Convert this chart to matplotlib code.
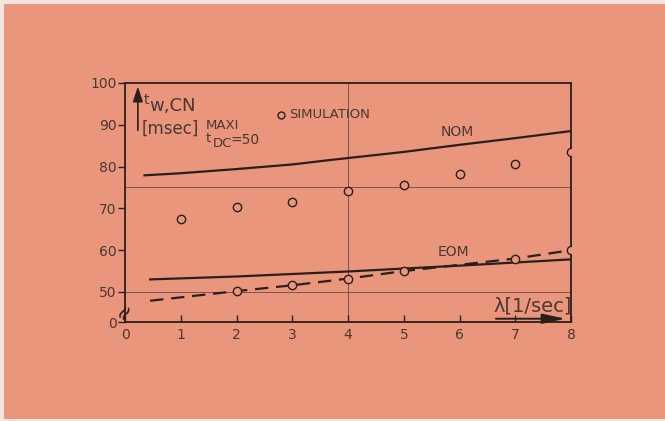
import matplotlib
matplotlib.use("Agg")
import matplotlib.pyplot as plt
from matplotlib.patches import Rectangle

# data
nom_x = [0.35, 1, 2, 3, 3.7, 5, 6, 7, 8]
nom_y = [77.9, 78.4, 79.4, 80.5, 81.6, 83.5, 85.2, 86.8, 88.5]

eom_x = [0.45, 2, 4, 6, 8]
eom_y = [53.0, 53.7, 54.9, 56.3, 57.8]

eom_dash_x = [0.45, 2, 3, 4, 5, 6, 7, 8]
eom_dash_y = [47.9, 50.2, 51.6, 53.2, 55.0, 56.5, 58.0, 60.0]

sim_nom_x = [1, 2, 3, 4, 5, 6, 7, 8]
sim_nom_y = [67.5, 70.4, 71.6, 74.1, 75.7, 78.3, 80.5, 83.4]

sim_eom_x = [2, 3, 4, 5, 7, 8]
sim_eom_y = [50.3, 51.6, 53.2, 55.0, 58.0, 60.0]

y_ticks = [42.8, 50, 60, 70, 80, 90, 100]
y_tick_labels = ['0', '50', '60', '70', '80', '90', '100']
x_ticks = [0, 1, 2, 3, 4, 5, 6, 7, 8]

bg = '#E9967C'
ink = '#2b1f1c'
txt = '#4a3833'
grid = '#7a5548'

fig = plt.figure(figsize=(6.65, 4.21), dpi=100, facecolor='#f4e6df')
fig.patches.append(Rectangle((0.006, 0.004), 0.994, 0.986, transform=fig.transFigure,
                             facecolor=bg, edgecolor='none', zorder=-10))
ax = fig.add_axes([0.188, 0.235, 0.671, 0.568])
ax.patch.set_alpha(0)

ax.set_xlim(0, 8)
ax.set_ylim(42.8, 100)

# thin reference lines
ax.axhline(75, color=grid, lw=0.7, zorder=1)
ax.axhline(50, color=grid, lw=0.7, zorder=1)
ax.axvline(4, color=grid, lw=0.7, zorder=1)

ax.plot(nom_x, nom_y, color=ink, lw=1.6, zorder=3)
ax.plot(eom_x, eom_y, color=ink, lw=1.6, zorder=3)
ax.plot(eom_dash_x, eom_dash_y, color=ink, lw=1.6, ls=(0, (6, 3.5)), zorder=3)

ax.plot(sim_nom_x, sim_nom_y, ls='none', marker='o', ms=6, mfc=bg, mec=ink, mew=1.0, zorder=4)
ax.plot(sim_eom_x, sim_eom_y, ls='none', marker='o', ms=6, mfc=bg, mec=ink, mew=1.0, zorder=4)

for s in ax.spines.values():
    s.set_color(ink)
    s.set_linewidth(1.3)

ax.set_yticks(y_ticks)
ax.set_yticklabels(y_tick_labels)
ax.set_xticks(x_ticks)
ax.tick_params(axis='y', direction='out', length=5, width=1, colors=ink, labelcolor=txt,
               labelsize=10, pad=1)
ax.tick_params(axis='x', direction='in', length=5, width=1, colors=ink, labelcolor=txt,
               labelsize=10, pad=4)

# axis break mark
ax.text(-0.02, 45.4, '≈', rotation=60, fontsize=15, color=ink,
        ha='center', va='center', clip_on=False)

# y axis label with arrow
ax.annotate('', xy=(0.23, 99.8), xytext=(0.23, 88.0),
            arrowprops=dict(arrowstyle='-|>,head_length=0.9,head_width=0.3', color=ink, lw=1.2))
ax.text(0.33, 96.0, 't', fontsize=10, color=txt, ha='left', va='center')
ax.text(0.43, 94.5, 'w,CN', fontsize=13, color=txt, ha='left', va='center')
ax.text(0.3, 89.0, '[msec]', fontsize=12, color=txt, ha='left', va='center')

ax.text(1.45, 89.8, 'MAXI', fontsize=9.5, color=txt, ha='left', va='center')
ax.text(1.45, 86.6, 't', fontsize=9.5, color=txt, ha='left', va='center')
ax.text(1.57, 85.6, 'DC', fontsize=9.5, color=txt, ha='left', va='center')
ax.text(1.9, 86.4, '=50', fontsize=10, color=txt, ha='left', va='center')

ax.plot([2.79], [92.4], ls='none', marker='o', ms=5, mfc=bg, mec=ink, mew=1.0)
ax.text(2.95, 92.4, 'SIMULATION', fontsize=9.5, color=txt, ha='left', va='center')

ax.text(5.95, 88.3, 'NOM', fontsize=10, color=txt, ha='center', va='center')
ax.text(5.88, 59.5, 'EOM', fontsize=10, color=txt, ha='center', va='center')

# x axis label with arrow
ax.text(6.6, 46.6, 'λ[1/sec]', fontsize=14, color=txt, ha='left', va='center')
ax.annotate('', xy=(7.95, 43.6), xytext=(6.6, 43.6),
            arrowprops=dict(arrowstyle='-|>,head_length=1.4,head_width=0.3', color=ink, lw=1.4))

fig.savefig('out.png', dpi=100, facecolor=fig.get_facecolor())
